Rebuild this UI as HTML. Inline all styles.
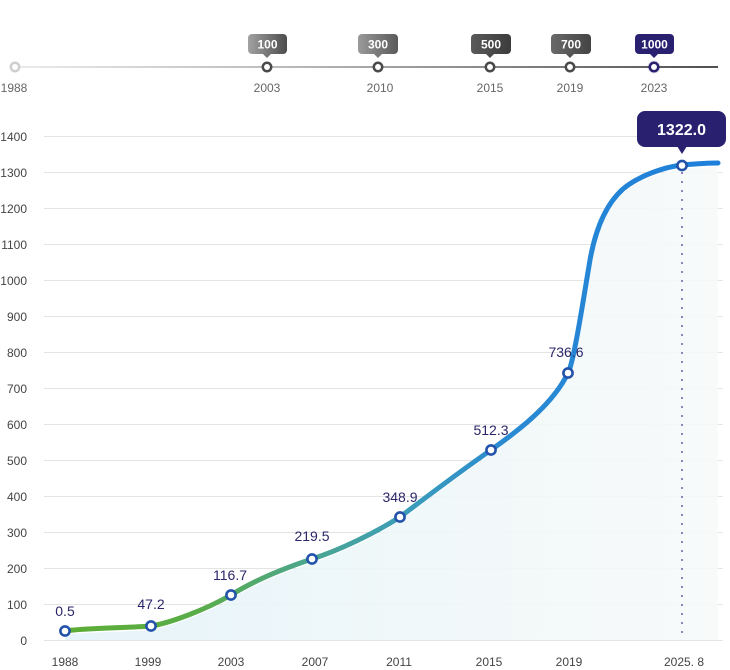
<!DOCTYPE html>
<html><head><meta charset="utf-8"><style>
html,body{margin:0;padding:0;background:#fff;}
svg{display:block;font-family:"Liberation Sans",Arial,sans-serif;}
</style></head><body>
<svg width="730" height="670" viewBox="0 0 730 670" xmlns="http://www.w3.org/2000/svg">
<defs>
<linearGradient id="tl" x1="15" y1="0" x2="718" y2="0" gradientUnits="userSpaceOnUse">
<stop offset="0" stop-color="#ececec"/><stop offset="0.4" stop-color="#b8b8b8"/><stop offset="1" stop-color="#505050"/>
</linearGradient>
<linearGradient id="ln" x1="65" y1="0" x2="718" y2="0" gradientUnits="userSpaceOnUse">
<stop offset="0" stop-color="#5cad35"/><stop offset="0.2" stop-color="#5aad48"/><stop offset="0.38" stop-color="#4aa590"/><stop offset="0.52" stop-color="#3c9db8"/><stop offset="0.68" stop-color="#2a8ad2"/><stop offset="1" stop-color="#1d7fdb"/>
</linearGradient>
<linearGradient id="ar" x1="65" y1="0" x2="718" y2="0" gradientUnits="userSpaceOnUse">
<stop offset="0" stop-color="#e4f2fa"/><stop offset="0.5" stop-color="#eef7f8"/><stop offset="1" stop-color="#f7f9f9"/>
</linearGradient>
<linearGradient id="b1" x1="0" y1="0" x2="1" y2="0"><stop offset="0" stop-color="#a2a2a2"/><stop offset="1" stop-color="#4c4c4c"/></linearGradient>
<linearGradient id="b2" x1="0" y1="0" x2="1" y2="0"><stop offset="0" stop-color="#9a9a9a"/><stop offset="1" stop-color="#5a5a5a"/></linearGradient>
<linearGradient id="b3" x1="0" y1="0" x2="1" y2="0"><stop offset="0" stop-color="#5a5a5a"/><stop offset="1" stop-color="#3c3c3c"/></linearGradient>
<linearGradient id="b4" x1="0" y1="0" x2="1" y2="0"><stop offset="0" stop-color="#6a6a6a"/><stop offset="1" stop-color="#444"/></linearGradient>
</defs>

<!-- top timeline -->
<line x1="15" y1="67" x2="718" y2="67" stroke="url(#tl)" stroke-width="2"/>
<circle cx="15" cy="67" r="4.2" fill="#fff" stroke="#cfcfcf" stroke-width="2.5"/>
<circle cx="267" cy="67" r="4.2" fill="#fff" stroke="#4a4a4a" stroke-width="2.5"/>
<circle cx="378" cy="67" r="4.2" fill="#fff" stroke="#4a4a4a" stroke-width="2.5"/>
<circle cx="490" cy="67" r="4.2" fill="#fff" stroke="#4a4a4a" stroke-width="2.5"/>
<circle cx="570" cy="67" r="4.2" fill="#fff" stroke="#4a4a4a" stroke-width="2.5"/>
<circle cx="654" cy="67" r="6.5" fill="#2a2070" opacity="0.15"/>
<circle cx="654" cy="67" r="4.2" fill="#fff" stroke="#2a2070" stroke-width="2.5"/>
<g font-size="12" fill="#666" text-anchor="middle">
<text x="14" y="92">1988</text><text x="267" y="92">2003</text><text x="380" y="92">2010</text>
<text x="490" y="92">2015</text><text x="570" y="92">2019</text><text x="654" y="92">2023</text>
</g>
<!-- badges -->
<g font-size="12" font-weight="bold" fill="#fff" text-anchor="middle">
<rect x="248" y="34" width="39" height="20" rx="4" fill="url(#b1)"/><path d="M263,54 L267,58 L271,54Z" fill="#777"/><text x="267.5" y="48.5">100</text>
<rect x="358" y="34" width="40" height="20" rx="4" fill="url(#b2)"/><path d="M374,54 L378,58 L382,54Z" fill="#7a7a7a"/><text x="378" y="48.5">300</text>
<rect x="471" y="34" width="40" height="20" rx="4" fill="url(#b3)"/><path d="M486,54 L490,58 L494,54Z" fill="#4a4a4a"/><text x="491" y="48.5">500</text>
<rect x="551" y="34" width="40" height="20" rx="4" fill="url(#b4)"/><path d="M566,54 L570,58 L574,54Z" fill="#555"/><text x="571" y="48.5">700</text>
<rect x="635" y="34" width="39" height="20" rx="4" fill="#2a2070"/><path d="M650,54 L654,58 L658,54Z" fill="#2a2070"/><text x="654.5" y="48.5">1000</text>
</g>

<!-- grid -->
<g stroke="#e4e4e4" stroke-width="1">
<line x1="44" y1="136.5" x2="723" y2="136.5"/><line x1="44" y1="172.5" x2="723" y2="172.5"/>
<line x1="44" y1="208.5" x2="723" y2="208.5"/><line x1="44" y1="244.5" x2="723" y2="244.5"/>
<line x1="44" y1="280.5" x2="723" y2="280.5"/><line x1="44" y1="316.5" x2="723" y2="316.5"/>
<line x1="44" y1="352.5" x2="723" y2="352.5"/><line x1="44" y1="388.5" x2="723" y2="388.5"/>
<line x1="44" y1="424.5" x2="723" y2="424.5"/><line x1="44" y1="460.5" x2="723" y2="460.5"/>
<line x1="44" y1="496.5" x2="723" y2="496.5"/><line x1="44" y1="532.5" x2="723" y2="532.5"/>
<line x1="44" y1="568.5" x2="723" y2="568.5"/><line x1="44" y1="604.5" x2="723" y2="604.5"/>
<line x1="44" y1="640.5" x2="723" y2="640.5"/>
</g>
<g font-size="12" fill="#444" text-anchor="end">
<text x="27" y="141">1400</text><text x="27" y="177">1300</text><text x="27" y="213">1200</text>
<text x="27" y="249">1100</text><text x="27" y="285">1000</text><text x="27" y="321">900</text>
<text x="27" y="357">800</text><text x="27" y="393">700</text><text x="27" y="429">600</text>
<text x="27" y="465">500</text><text x="27" y="501">400</text><text x="27" y="537">300</text>
<text x="27" y="573">200</text><text x="27" y="609">100</text><text x="27" y="645">0</text>
</g>

<!-- area -->
<path d="M65,635 C85,632 125,632 151,630 C170,627 205,614 231,599 C255,584 285,572 312,563 C340,554 375,537 400,521 C425,502 465,472 491,454 C515,437 552,410 568,377 C574,366 584,299 590,264 C595,236 605,209 623,193 C640,179 665,171 682,169 C700,167 710,167 718,167 L718,640 L65,640 Z" fill="url(#ar)" opacity="0.9"/>

<!-- dotted line -->
<line x1="682" y1="172" x2="682" y2="638" stroke="#8c84bc" stroke-width="2" stroke-dasharray="2,7"/>

<!-- curve -->
<path d="M65,631 C85,628 125,628 151,626 C170,623 205,610 231,595 C255,580 285,568 312,559 C340,550 375,533 400,517 C425,498 465,468 491,450 C515,433 552,406 568,373 C574,362 584,295 590,260 C595,232 605,205 623,189 C640,175 665,167 682,165 C700,163.5 710,163 718,163" fill="none" stroke="url(#ln)" stroke-width="5" stroke-linecap="round"/>

<!-- markers -->
<g fill="#fff" stroke="#2352aa" stroke-width="2.6">
<circle cx="65" cy="631" r="4.6"/><circle cx="151" cy="626" r="4.6"/><circle cx="231" cy="595" r="4.6"/>
<circle cx="312" cy="559" r="4.6"/><circle cx="400" cy="517" r="4.6"/><circle cx="491" cy="450" r="4.6"/>
<circle cx="568" cy="373" r="4.6"/><circle cx="682" cy="165.5" r="4.6"/>
</g>

<!-- value labels -->
<g font-size="14" fill="#2a2668" text-anchor="middle">
<text x="65" y="616">0.5</text><text x="151" y="609">47.2</text><text x="230" y="580">116.7</text>
<text x="312" y="541">219.5</text><text x="400" y="502">348.9</text><text x="491" y="435">512.3</text>
<text x="566" y="357">736.6</text>
</g>

<!-- tooltip -->
<rect x="637" y="111" width="89" height="36" rx="8" fill="#2a2070"/>
<path d="M677,146 L682,154 L687,146Z" fill="#2a2070"/>
<text x="681.5" y="135" font-size="16" font-weight="bold" fill="#fff" text-anchor="middle">1322.0</text>

<!-- x labels -->
<g font-size="12" fill="#444" text-anchor="middle">
<text x="65" y="666">1988</text><text x="148" y="666">1999</text><text x="231" y="666">2003</text>
<text x="315" y="666">2007</text><text x="399" y="666">2011</text><text x="489" y="666">2015</text>
<text x="569" y="666">2019</text><text x="684" y="666">2025. 8</text>
</g>
</svg>
</body></html>
